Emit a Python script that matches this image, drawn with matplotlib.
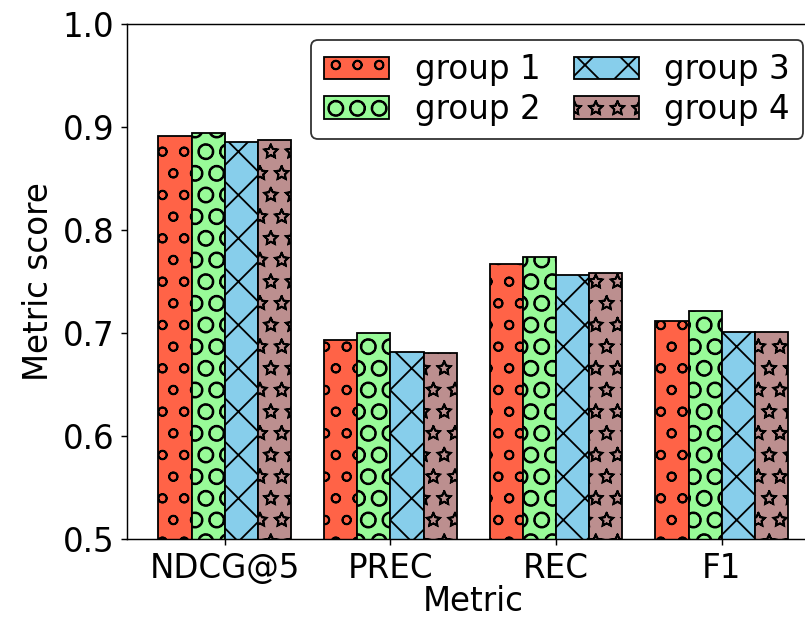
import matplotlib
matplotlib.use("Agg")
import matplotlib.pyplot as plt
import matplotlib.hatch as mhatch
import numpy as np

metrics = ["NDCG@5", "PREC", "REC", "F1"]
groups = ["group 1", "group 2", "group 3", "group 4"]
group1 = [0.891, 0.693, 0.767, 0.712]
group2 = [0.894, 0.700, 0.774, 0.721]
group3 = [0.885, 0.682, 0.756, 0.701]
group4 = [0.887, 0.681, 0.758, 0.701]

colors = ["tomato", "palegreen", "skyblue", "rosybrown"]
hatches = ["o", "O", "x", "*"]

# outlined stars as in the reference
mhatch.Stars.filled = False

DPI = 130
W, H = 805, 617
fig = plt.figure(figsize=(W / DPI, H / DPI), dpi=DPI)
left, right, top, bottom = 127, 819.5, 24, 539
ax = fig.add_axes([left / W, 1 - bottom / H, (right - left) / W, (bottom - top) / H])

x = np.arange(len(metrics))
w = 0.2
for i, (vals, c, h, g) in enumerate(zip([group1, group2, group3, group4], colors, hatches, groups)):
    ax.bar(x + (i - 1.5) * w, vals, w, color=c, hatch=h, edgecolor="black", label=g)

ax.set_ylim(0.5, 1.0)
ax.set_xlim(-0.59, 3.59)
ax.set_xticks(x)
ax.set_xticklabels(metrics)
ax.tick_params(labelsize=18)
ax.set_xlabel("Metric", fontsize=18, labelpad=0)
ax.set_ylabel("Metric score", fontsize=18)
leg = ax.legend(ncol=2, fontsize=18, loc="upper right", edgecolor="black",
                labelspacing=0.2, columnspacing=1.0)
fig.savefig("out.png", dpi=DPI)
